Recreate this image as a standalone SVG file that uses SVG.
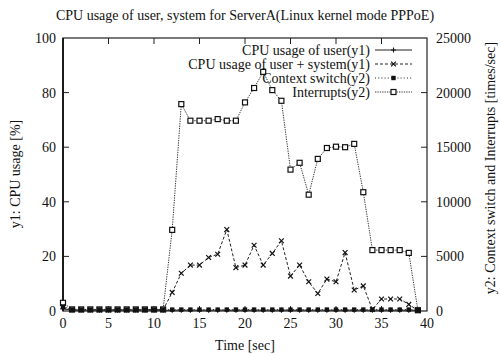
<svg xmlns="http://www.w3.org/2000/svg" width="501" height="355" viewBox="0 0 501 355">
  <style>
    text { font-family: "Liberation Serif", "Times New Roman", serif; fill: #111; }
    .t14 { font-size: 14px; }
    .frame { fill: none; stroke: #222; stroke-width: 1.2; }
    .tick { stroke: #222; stroke-width: 1; }
    .s-user { fill: none; stroke: #222; stroke-width: 1; }
    .s-usys { fill: none; stroke: #222; stroke-width: 1; stroke-dasharray: 3 2; }
    .s-ctx { fill: none; stroke: #222; stroke-width: 1; stroke-dasharray: 1 2.2; }
    .s-int { fill: none; stroke: #333; stroke-width: 1; stroke-dasharray: 1.3 1.1; }
    .m-user { marker-start: url(#pPlus); marker-mid: url(#pPlus); marker-end: url(#pPlus); }
    .m-usys { marker-start: url(#pCross); marker-mid: url(#pCross); marker-end: url(#pCross); }
    .m-ctx { marker-start: url(#pFill); marker-mid: url(#pFill); marker-end: url(#pFill); }
    .m-int { marker-start: url(#pBox); marker-mid: url(#pBox); marker-end: url(#pBox); }
  </style>
  <defs>
    <marker id="pPlus" markerUnits="userSpaceOnUse" markerWidth="8" markerHeight="8" refX="4" refY="4" overflow="visible">
      <path d="M1.5 4H6.5M4 1.5V6.5" stroke="#111" stroke-width="1.1" fill="none"/>
    </marker>
    <marker id="pCross" markerUnits="userSpaceOnUse" markerWidth="8" markerHeight="8" refX="4" refY="4" overflow="visible">
      <path d="M1.6 1.6L6.4 6.4M6.4 1.6L1.6 6.4" stroke="#111" stroke-width="1.2" fill="none"/>
    </marker>
    <marker id="pFill" markerUnits="userSpaceOnUse" markerWidth="8" markerHeight="8" refX="4" refY="4" overflow="visible">
      <rect x="1.8" y="1.8" width="4.4" height="4.4" fill="#111"/>
    </marker>
    <marker id="pBox" markerUnits="userSpaceOnUse" markerWidth="8" markerHeight="8" refX="4" refY="4" overflow="visible">
      <rect x="1.5" y="1.5" width="5" height="5" fill="#fff" stroke="#111" stroke-width="1.2"/>
    </marker>
  </defs>

  <rect width="501" height="355" fill="#fff"/>

  <!-- title -->
  <text class="t14" x="245" y="20" text-anchor="middle">CPU usage of user, system for ServerA(Linux kernel mode PPPoE)</text>

  <!-- plot frame and ticks -->
  <g id="axes">
    <rect class="frame" x="63" y="38" width="364" height="273"/>
    <line x1="63" y1="38" x2="63" y2="311" stroke="#111" stroke-width="1.8"/>
    <g class="tick">
      <!-- left y1 ticks -->
      <path d="M63 256.4h6M63 201.8h6M63 147.2h6M63 92.6h6"/>
      <!-- right y2 ticks -->
      <path d="M427 256.4h-6M427 201.8h-6M427 147.2h-6M427 92.6h-6"/>
      <!-- top x ticks -->
      <path d="M108.5 38v6M154 38v6M199.5 38v6M245 38v6M290.5 38v6M336 38v6M381.5 38v6"/>
      <!-- bottom x ticks -->
      <path d="M108.5 311v-5M154 311v-5M199.5 311v-5M245 311v-5M290.5 311v-5M336 311v-5M381.5 311v-5"/>
    </g>
  </g>

  <!-- tick labels -->
  <g id="y1-labels" class="t14" text-anchor="end">
    <text x="56" y="43">100</text>
    <text x="56" y="97.6">80</text>
    <text x="56" y="152.2">60</text>
    <text x="56" y="206.8">40</text>
    <text x="56" y="261.4">20</text>
    <text x="56" y="316">0</text>
  </g>
  <g id="y2-labels" class="t14" text-anchor="start">
    <text x="436" y="43">25000</text>
    <text x="436" y="97.6">20000</text>
    <text x="436" y="152.2">15000</text>
    <text x="436" y="206.8">10000</text>
    <text x="436" y="261.4">5000</text>
    <text x="436" y="316">0</text>
  </g>
  <g id="x-labels" class="t14" text-anchor="middle">
    <text x="63" y="328">0</text>
    <text x="108.5" y="328">5</text>
    <text x="154" y="328">10</text>
    <text x="199.5" y="328">15</text>
    <text x="245" y="328">20</text>
    <text x="290.5" y="328">25</text>
    <text x="336" y="328">30</text>
    <text x="381.5" y="328">35</text>
    <text x="427" y="328">40</text>
  </g>

  <!-- axis titles -->
  <text class="t14" x="245" y="350" text-anchor="middle">Time [sec]</text>
  <text class="t14" transform="translate(20 174) rotate(-90)" text-anchor="middle">y1: CPU usage [%]</text>
  <text class="t14" transform="translate(495 168) rotate(-90)" text-anchor="middle">y2: Context switch and Interrupts [times/sec]</text>

  <!-- data series -->
  <g id="series">
    <!-- Interrupts (y2) -->
    <polyline class="s-int m-int" points="63,302.8 72.1,309.4 81.2,309.4 90.3,309.4 99.4,309.4 108.5,309.4 117.6,309.4 126.7,309.4 135.8,309.4 144.9,309.4 154,309.4 163.1,309.4 172.2,229.9 181.3,104.1 190.4,120.7 199.5,120.7 208.6,120.7 217.7,119.1 226.8,120.7 235.9,120.7 245,102.4 254.1,88 263.2,71.9 272.3,90.1 281.4,100.8 290.5,169.6 299.6,162.8 308.7,194.7 317.8,158.9 326.9,148 336,146.7 345.1,147.2 354.2,143.9 363.3,192.2 372.4,250.1 381.5,250.1 390.6,250.1 399.7,250.1 408.8,252.9 417.9,310.2"/>
    <!-- CPU usage of user + system (y1) -->
    <polyline class="s-usys m-usys" points="63,306.9 72.1,309.9 81.2,309.9 90.3,309.9 99.4,309.9 108.5,309.9 117.6,309.9 126.7,309.9 135.8,309.9 144.9,309.9 154,309.9 163.1,309.9 172.2,292.4 181.3,273.3 190.4,265.1 199.5,265.1 208.6,257.5 217.7,254.2 226.8,229.6 235.9,267.6 245,265.1 254.1,245.2 263.2,265.1 272.3,253.4 281.4,240.8 290.5,276.1 299.6,265.1 308.7,281.8 317.8,293.5 326.9,279.1 336,281.8 345.1,252.6 354.2,290 363.3,285.9 372.4,309.4 381.5,299 390.6,299 399.7,299 408.8,304.4 417.9,310.5"/>
    <!-- Context switch (y2) -->
    <polyline class="s-ctx m-ctx" points="63,306.6 72.1,309.6 81.2,309.6 90.3,309.6 99.4,309.6 108.5,309.6 117.6,309.6 126.7,309.6 135.8,309.6 144.9,309.6 154,309.6 163.1,309.6 172.2,309.6 181.3,309.6 190.4,309.6 199.5,309.6 208.6,309.6 217.7,309.6 226.8,309.6 235.9,309.6 245,309.6 254.1,309.6 263.2,309.6 272.3,309.6 281.4,309.6 290.5,309.6 299.6,309.6 308.7,309.6 317.8,309.6 326.9,309.6 336,309.6 345.1,309.6 354.2,309.6 363.3,309.6 372.4,309.6 381.5,309.6 390.6,309.6 399.7,309.6 408.8,309.6 417.9,310.2"/>
    <!-- CPU usage of user (y1) -->
    <polyline class="s-user m-user" points="63,308.8 72.1,310.2 81.2,310.2 90.3,310.2 99.4,310.2 108.5,310.2 117.6,310.2 126.7,310.2 135.8,310.2 144.9,310.2 154,310.2 163.1,310.2 172.2,310.2 181.3,310.2 190.4,310.2 199.5,310.2 208.6,310.2 217.7,310.2 226.8,310.2 235.9,310.2 245,310.2 254.1,310.2 263.2,310.2 272.3,310.2 281.4,310.2 290.5,310.2 299.6,310.2 308.7,310.2 317.8,310.2 326.9,310.2 336,310.2 345.1,310.2 354.2,310.2 363.3,310.2 372.4,310.2 381.5,310.2 390.6,310.2 399.7,310.2 408.8,310.2 417.9,310.2"/>
  </g>

  <!-- key -->
  <g id="legend" class="t14">
    <g id="key-user">
      <text x="370" y="55" text-anchor="end">CPU usage of user(y1)</text>
      <line class="s-user" x1="375" y1="50" x2="412" y2="50"/>
      <path d="M391 50H396M393.5 47.5V52.5" stroke="#111" stroke-width="1.1"/>
    </g>
    <g id="key-usys">
      <text x="370" y="69" text-anchor="end">CPU usage of user + system(y1)</text>
      <line class="s-usys" x1="375" y1="64" x2="412" y2="64"/>
      <path d="M391.1 61.6L395.9 66.4M395.9 61.6L391.1 66.4" stroke="#111" stroke-width="1.2"/>
    </g>
    <g id="key-ctx">
      <text x="370" y="83" text-anchor="end">Context switch(y2)</text>
      <line class="s-ctx" x1="375" y1="78" x2="412" y2="78"/>
      <rect x="391.3" y="75.8" width="4.4" height="4.4" fill="#111"/>
    </g>
    <g id="key-int">
      <text x="370" y="97" text-anchor="end">Interrupts(y2)</text>
      <line class="s-int" x1="375" y1="92" x2="412" y2="92"/>
      <rect x="391" y="89.5" width="5" height="5" fill="#fff" stroke="#111" stroke-width="1.2"/>
    </g>
  </g>
</svg>
